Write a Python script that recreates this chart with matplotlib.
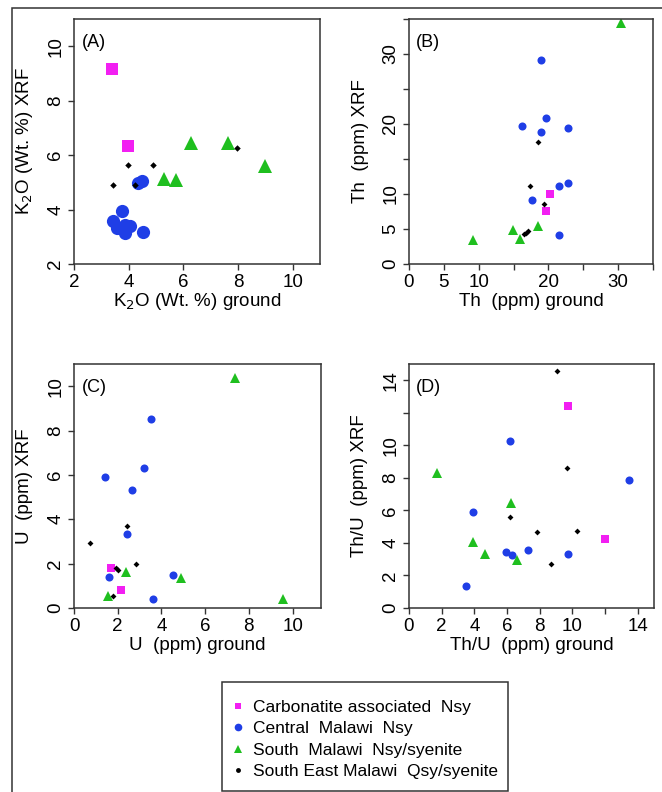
import matplotlib
matplotlib.use("Agg")
import matplotlib.pyplot as plt
from matplotlib.lines import Line2D
from matplotlib.patches import Rectangle

plt.rcParams['font.family'] = ['Liberation Sans', 'DejaVu Sans']

# --- data (ground vs XRF) ---
# (A) K2O
carb_A_x = [3.40, 3.99]
carb_A_y = [9.16, 6.33]
central_A_x = [4.35, 4.48, 3.75, 3.44, 3.87, 4.05, 3.87, 4.52, 3.56]
central_A_y = [4.98, 5.04, 3.93, 3.57, 3.44, 3.38, 3.13, 3.19, 3.31]
south_A_x = [6.27, 7.63, 9.00, 5.31, 5.72]
south_A_y = [6.43, 6.43, 5.59, 5.14, 5.10]
se_A_x = [3.99, 4.88, 3.44, 4.23, 7.98]
se_A_y = [5.65, 5.62, 4.91, 4.91, 6.25]

# (B) Th
carb_B_x = [20.17, 19.65]
carb_B_y = [9.95, 7.62]
central_B_x = [18.93, 16.17, 19.65, 18.93, 22.84, 21.55, 22.84, 17.64, 21.55]
central_B_y = [29.14, 19.76, 20.81, 18.90, 19.38, 11.14, 11.62, 9.10, 4.14]
south_B_x = [30.47, 9.25, 14.97, 15.97, 18.45]
south_B_y = [34.48, 3.43, 4.86, 3.52, 5.43]
se_B_x = [18.55, 17.31, 19.41, 16.79, 17.12, 16.50]
se_B_y = [17.48, 11.14, 8.57, 4.48, 4.71, 4.30]

# (C) U
carb_C_x = [1.69, 2.14]
carb_C_y = [1.79, 0.80]
central_C_x = [3.51, 1.42, 3.21, 2.67, 2.41, 1.62, 4.52, 3.60]
central_C_y = [8.50, 5.89, 6.29, 5.32, 3.35, 1.38, 1.47, 0.41]
south_C_x = [7.37, 2.38, 4.89, 9.57, 1.57]
south_C_y = [10.35, 1.62, 1.35, 0.42, 0.53]
se_C_x = [0.73, 2.44, 2.82, 1.91, 2.03, 1.77]
se_C_y = [2.92, 3.70, 2.00, 1.80, 1.70, 0.53]

# (D) Th/U
carb_D_x = [9.73, 12.00]
carb_D_y = [12.40, 4.25]
central_D_x = [6.17, 3.94, 3.49, 5.91, 6.32, 7.30, 9.73, 13.49]
central_D_y = [10.27, 5.93, 1.33, 3.45, 3.28, 3.57, 3.35, 7.88]
south_D_x = [1.72, 3.92, 4.64, 6.27, 6.64]
south_D_y = [8.31, 4.06, 3.35, 6.47, 2.94]
se_D_x = [9.07, 9.65, 6.21, 7.85, 10.30, 8.67]
se_D_y = [14.56, 8.60, 5.58, 4.68, 4.76, 2.71]

# tick positions and labels (R drops some labels)
ticks_A = [2, 4, 6, 8, 10]
labels_A = ['2', '4', '6', '8', '10']
ticks_B = [0, 5, 10, 15, 20, 25, 30, 35]
labels_B = ['0', '5', '10', '', '20', '', '30', '']
ticks_C = [0, 2, 4, 6, 8, 10]
labels_C = ['0', '2', '4', '6', '8', '10']
ticks_D = [0, 2, 4, 6, 8, 10, 12, 14]
labels_D = ['0', '2', '4', '6', '8', '10', '', '14']

legend_labels = ['Carbonatite associated  Nsy', 'Central  Malawi  Nsy',
                 'South  Malawi  Nsy/syenite', 'South East Malawi  Qsy/syenite']

C_MAG = '#f21ff2'
C_BLUE = '#1f3ee6'
C_GREEN = '#1fbf1f'
C_BLK = '#000000'
EDGE = '#333333'

fig = plt.figure(figsize=(6.62, 7.92), dpi=100)
W, H = 662, 792


def make_axes(left, top, right, bottom):
    return fig.add_axes([left / W, 1 - bottom / H, (right - left) / W, (bottom - top) / H])


panels = [
    dict(box=(74, 19, 320, 264), lim=((2, 11), (2, 11)), ticks=(ticks_A, labels_A), tag='(A)',
         xl='K$_2$O (Wt. %) ground', yl='K$_2$O (Wt. %) XRF', big=True,
         data=[(carb_A_x, carb_A_y), (central_A_x, central_A_y), (south_A_x, south_A_y), (se_A_x, se_A_y)]),
    dict(box=(409, 19, 653, 264), lim=((0, 35), (0, 35)), ticks=(ticks_B, labels_B), tag='(B)',
         xl='Th  (ppm) ground', yl='Th  (ppm) XRF', big=False,
         data=[(carb_B_x, carb_B_y), (central_B_x, central_B_y), (south_B_x, south_B_y), (se_B_x, se_B_y)]),
    dict(box=(74, 364, 321, 608), lim=((0, 11.3), (0, 11)), ticks=(ticks_C, labels_C), tag='(C)',
         xl='U  (ppm) ground', yl='U  (ppm) XRF', big=False,
         data=[(carb_C_x, carb_C_y), (central_C_x, central_C_y), (south_C_x, south_C_y), (se_C_x, se_C_y)]),
    dict(box=(409, 364, 654, 608), lim=((0, 15), (0, 15)), ticks=(ticks_D, labels_D), tag='(D)',
         xl='Th/U  (ppm) ground', yl='Th/U  (ppm) XRF', big=False,
         data=[(carb_D_x, carb_D_y), (central_D_x, central_D_y), (south_D_x, south_D_y), (se_D_x, se_D_y)]),
]

for p in panels:
    ax = make_axes(*p['box'])
    # marker styles, bigger in panel A
    if p['big']:
        sizes = [9, 9.5, 10, 3.3]
    else:
        sizes = [5.3, 5.8, 6.8, 3.0]
    styles = [('s', C_MAG), ('o', C_BLUE), ('^', C_GREEN), ('D', C_BLK)]
    for (xs, ys), (m, c), ms in zip(p['data'], styles, sizes):
        ax.plot(xs, ys, linestyle='none', marker=m, color=c, markersize=ms, markeredgewidth=0)

    ax.set_xlim(*p['lim'][0])
    ax.set_ylim(*p['lim'][1])
    t, lab = p['ticks']
    ax.set_xticks(t, lab)
    ax.set_yticks(t, lab)
    for lbl in ax.get_yticklabels():
        lbl.set_rotation(90)
        lbl.set_va('center')
    ax.tick_params(direction='out', length=4, width=1, color=EDGE, labelsize=13.5, pad=3)
    for s in ax.spines.values():
        s.set_color(EDGE)
        s.set_linewidth(1.1)

    ax.set_xlabel(p['xl'], fontsize=13.5)
    ax.set_ylabel(p['yl'], fontsize=13.5)
    ax.xaxis.set_label_coords(0.5, -0.155)
    ax.yaxis.set_label_coords(-0.2, 0.5)
    ax.xaxis.label.set_va('center')
    ax.yaxis.label.set_va('center')
    ax.text(0.03, 0.905, p['tag'], transform=ax.transAxes, fontsize=13, ha='left', va='center')

# legend: frameless entries plus a hand-placed box
handles = [
    Line2D([], [], linestyle='none', marker='s', color=C_MAG, markersize=5, markeredgewidth=0),
    Line2D([], [], linestyle='none', marker='o', color=C_BLUE, markersize=5.5, markeredgewidth=0),
    Line2D([], [], linestyle='none', marker='^', color=C_GREEN, markersize=6, markeredgewidth=0),
    Line2D([], [], linestyle='none', marker='o', color=C_BLK, markersize=3.5, markeredgewidth=0),
]
fig.legend(handles, legend_labels, loc='upper left', bbox_to_anchor=(231 / W, 1 - 700 / H),
           frameon=False, fontsize=12.5, labelspacing=0.35,
           handlelength=0.8, handletextpad=0.45, borderpad=0, borderaxespad=0)
fig.patches.append(Rectangle((222 / W, 1 - 791 / H), (508 - 222) / W, (791 - 682) / H,
                             transform=fig.transFigure, fill=False, edgecolor=EDGE, linewidth=1.1))

# outer border (only left and top visible in the crop)
fig.patches.append(Rectangle((12 / W, -0.05), 1.1, 1 - 8 / H + 0.05, transform=fig.transFigure,
                             fill=False, edgecolor=EDGE, linewidth=1.1))

fig.savefig('out.png', dpi=100)
